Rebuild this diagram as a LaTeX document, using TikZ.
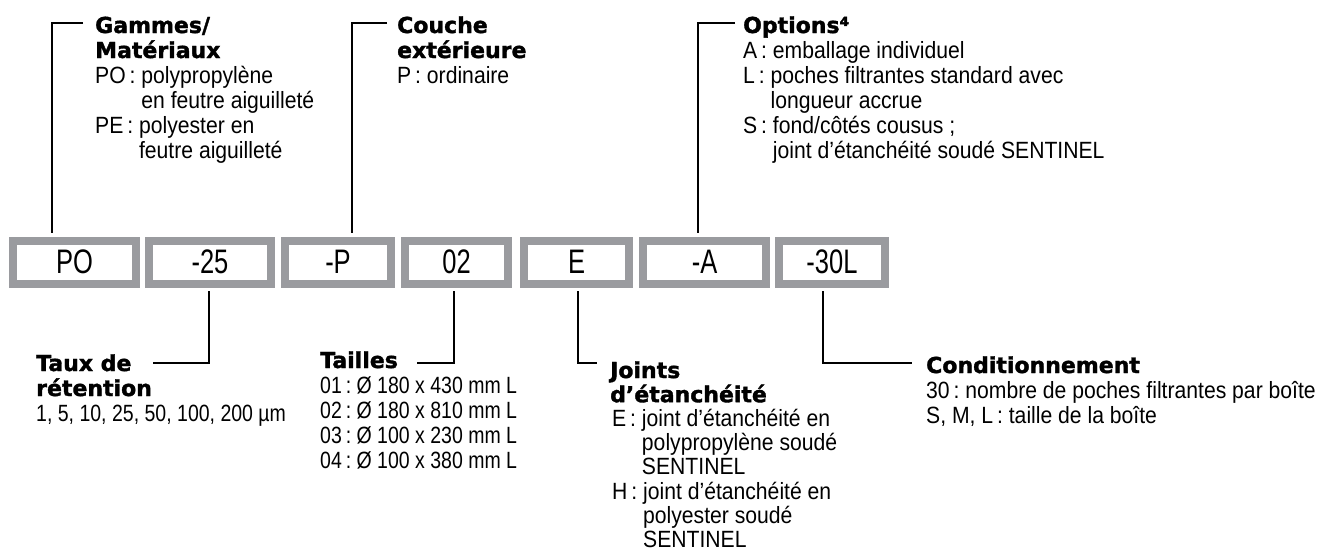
\documentclass[tikz,border=0pt]{standalone}
\usepackage{fontspec}
\setmainfont{Liberation Sans}[FakeStretch=0.9]
\newfontfamily\hdfont{DejaVu Sans Bold}[FakeStretch=1.0,FakeBold=1.6]
\newfontfamily\numfont{Liberation Sans}[FakeStretch=0.83]
\newfontfamily\bxfont{Liberation Sans}[FakeStretch=0.75]
\definecolor{boxgray}{RGB}{154,155,159}
\newcommand\bodysz{\fontsize{23.5}{25}\selectfont}
\newcommand\hdl[1]{\hbox{\hdfont\fontsize{22}{25}\selectfont #1}}
\newcommand\bdl[1]{\hbox{\bodysz #1}}
\newcommand\ndl[1]{\hbox{\numfont\bodysz #1}}
\newcommand\hang[2]{\hbox{\bodysz\hphantom{#1}#2}}
\newcommand\blkk[2][25pt]{\vtop{\baselineskip=#1\lineskiplimit=-\maxdimen #2}}
\begin{document}
\begin{tikzpicture}[x=1pt,y=-1pt,
  codebox/.style={draw=boxgray,line width=8pt,fill=white,inner sep=0pt,
    minimum height=43pt,font=\bxfont\fontsize{34}{35}\selectfont},
  conn/.style={line width=2pt,black},
  lbl/.style={anchor=base west,inner sep=0pt,align=left}]
\useasboundingbox (0,0) rectangle (1324,552);
% boxes (outer extents)
\node[codebox,minimum width=123pt] (b1) at (74.5,262) {PO};
\node[codebox,minimum width=122pt] (b2) at (210,262) {-25};
\node[codebox,minimum width=106pt] (b3) at (338,262) {-P};
\node[codebox,minimum width=103pt] (b4) at (456.5,262) {02};
\node[codebox,minimum width=105pt] (b5) at (576.5,262) {E};
\node[codebox,minimum width=123pt] (b6) at (704.5,262) {-A};
\node[codebox,minimum width=106pt] (b7) at (832,262) {-30L};
% top labels
\node[lbl] (t1) at (95,33) {\blkk{\hdl{Gammes/}\hdl{Matériaux}
  \bdl{PO\,:\ polypropylène}\hang{PO\,:\ }{en feutre aiguilleté}
  \bdl{PE\,:\ polyester en}\hang{PE\,:\ }{feutre aiguilleté}}};
\node[lbl] (t2) at (397,33) {\blkk{\hdl{Couche}\hdl{extérieure}
  \bdl{P\,:\ ordinaire}}};
\node[lbl] (t3) at (743,33) {\blkk{\hdl{Options⁴}
  \bdl{A\,:\ emballage individuel}
  \bdl{L\,:\ poches filtrantes standard avec}\hang{L\,:\ }{longueur accrue}
  \bdl{S\,:\ fond/côtés cousus ;}\hang{S\,:\ }{joint d’étanchéité soudé SENTINEL}}};
% bottom labels
\node[lbl] (u1) at (36,371) {\blkk{\hdl{Taux de}\hdl{rétention}
  \ndl{1, 5, 10, 25, 50, 100, 200 µm}}};
\node[lbl] (u2) at (320,368) {\blkk{\hdl{Tailles}
  \ndl{01\,:\ Ø 180 x 430 mm L}\ndl{02\,:\ Ø 180 x 810 mm L}
  \ndl{03\,:\ Ø 100 x 230 mm L}\ndl{04\,:\ Ø 100 x 380 mm L}}};
\node[lbl] (u3) at (610,378) {\blkk[24.2pt]{\hdl{Joints}\hdl{d’étanchéité}
  \bdl{\kern2pt E\,:\ joint d’étanchéité en}\hang{\kern2pt E\,:\ }{polypropylène soudé}
  \hang{\kern2pt E\,:\ }{SENTINEL}
  \bdl{\kern2pt H\,:\ joint d’étanchéité en}\hang{\kern2pt H\,:\ }{polyester soudé}
  \hang{\kern2pt H\,:\ }{SENTINEL}}};
\node[lbl] (u4) at (926,373) {\blkk{\hdl{Conditionnement}
  \bdl{30\,:\ nombre de poches filtrantes par boîte}
  \bdl{S, M, L\,:\ taille de la boîte}}};
% connector corner coordinates
\coordinate (k1a) at (83,23);  \coordinate (k1b) at (52,23);  \coordinate (k1c) at (52,233);
\coordinate (k2a) at (387,23); \coordinate (k2b) at (352,23); \coordinate (k2c) at (352,233);
\coordinate (k3a) at (735,23); \coordinate (k3b) at (698,23); \coordinate (k3c) at (698,233);
\coordinate (m1a) at (209,291); \coordinate (m1b) at (209,363); \coordinate (m1c) at (153,363);
\coordinate (m2a) at (454,291); \coordinate (m2b) at (454,363); \coordinate (m2c) at (417,363);
\coordinate (m3a) at (578,291); \coordinate (m3b) at (578,363); \coordinate (m3c) at (597,363);
\coordinate (m4a) at (823,291); \coordinate (m4b) at (823,363); \coordinate (m4c) at (912,363);
\draw[conn] (k1a) -- (k1b) -- (k1c);
\draw[conn] (k2a) -- (k2b) -- (k2c);
\draw[conn] (k3a) -- (k3b) -- (k3c);
\draw[conn] (m1a) -- (m1b) -- (m1c);
\draw[conn] (m2a) -- (m2b) -- (m2c);
\draw[conn] (m3a) -- (m3b) -- (m3c);
\draw[conn] (m4a) -- (m4b) -- (m4c);
\end{tikzpicture}
\end{document}
